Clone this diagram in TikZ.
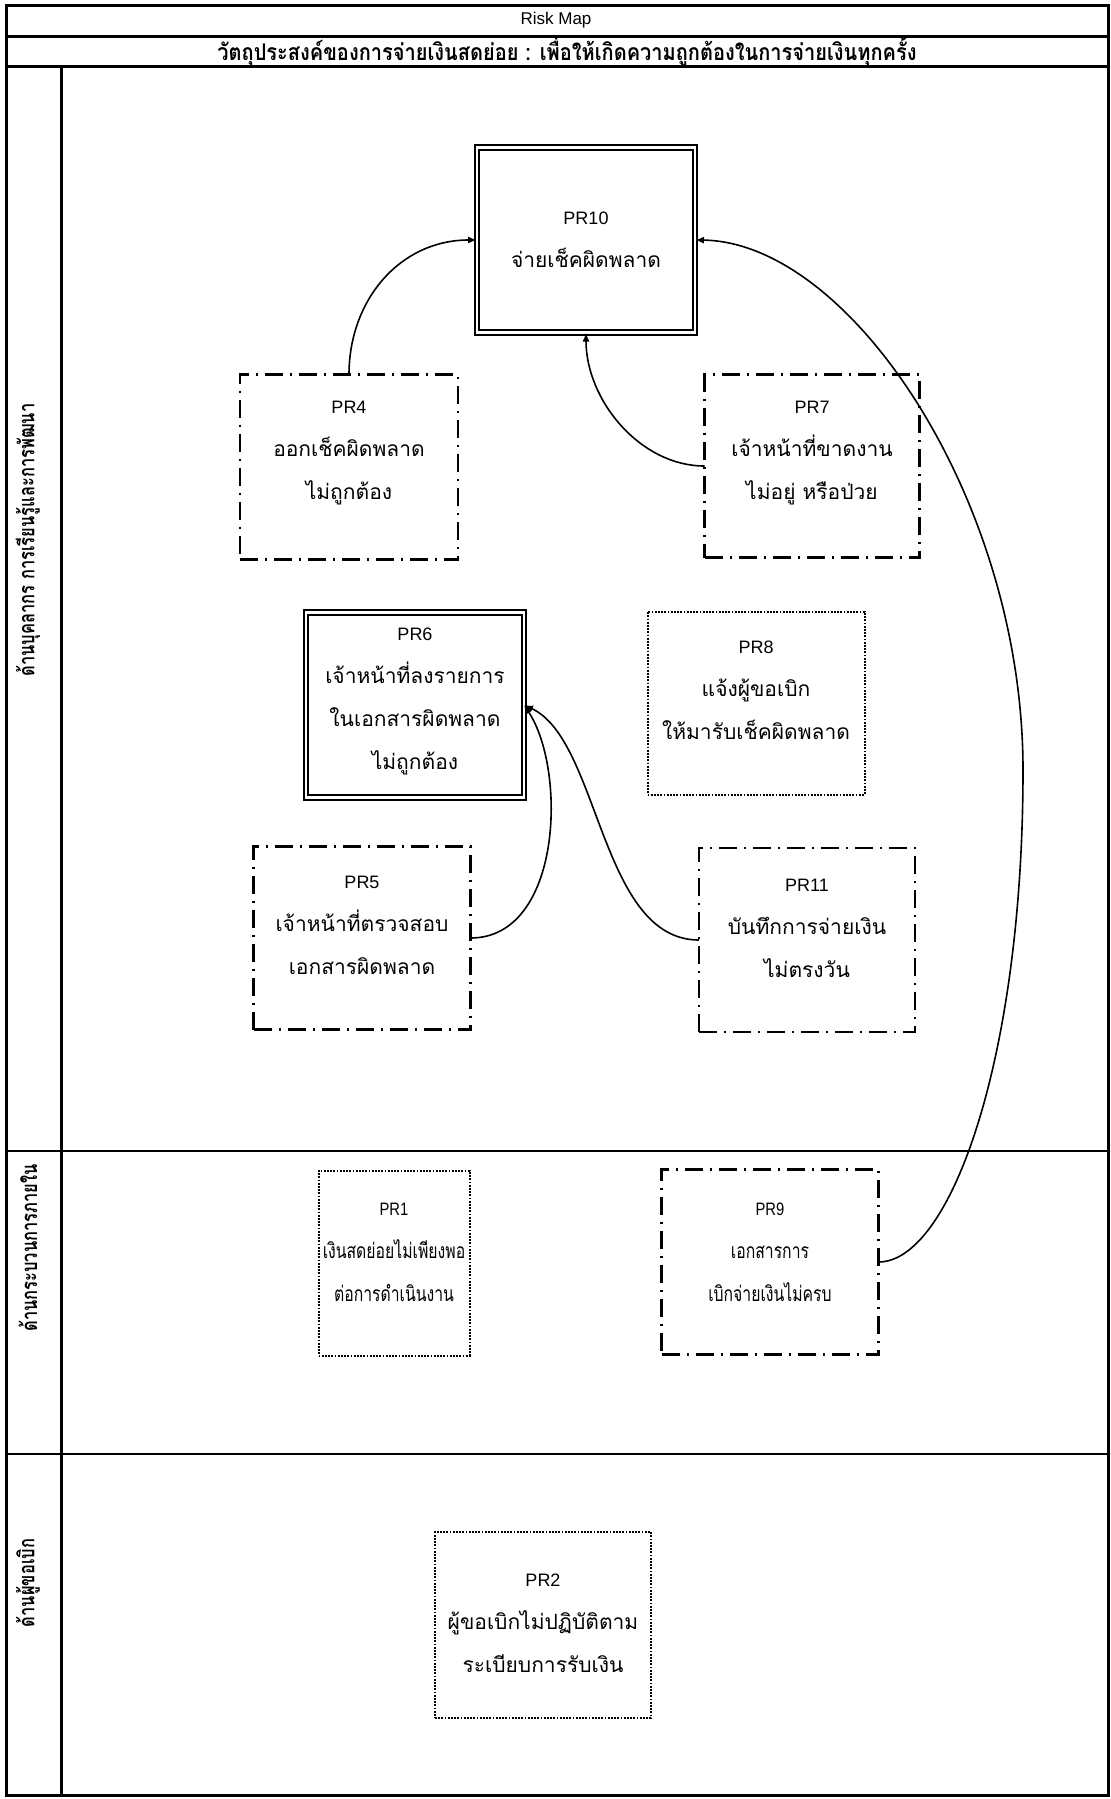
\documentclass[tikz,border=0pt]{standalone}
\usepackage{fontspec}
\setmainfont{Liberation Sans}
\newfontfamily\thaifont[Script=Thai]{Loma}
\newfontfamily\thaicond[Script=Thai,FakeStretch=0.75]{Loma}
\newfontfamily\thaisub[Script=Thai,FakeStretch=0.87]{Loma}
\newfontfamily\latcond[FakeStretch=0.82]{Liberation Sans}
\usetikzlibrary{arrows.meta}
\newcommand\TT[1]{{\thaifont\fontsize{10.5}{21.5}\selectfont #1}}
\newcommand\TC[1]{{\thaicond\fontsize{10.5}{21.5}\selectfont #1}}
\begin{document}
\begin{tikzpicture}[x=0.5pt,y=-0.5pt,
  frameline/.style={line width=1.5pt},
  laneline/.style={line width=1.3pt},
  riskbox/.style n args={2}{minimum width=#1, minimum height=#2, inner sep=0pt, outer sep=0pt},
  ddbox/.style={draw, line width=1.1pt, dash pattern=on 9pt off 3.5pt on 1pt off 3.5pt},
  dotbox/.style={draw, line width=1pt, dash pattern=on 0.9pt off 0.7pt},
  dblbox/.style={draw, line width=0.9pt, double, double distance=1.3pt},
  txt/.style={align=center, inner sep=0pt, font=\fontsize{9}{21.5}\selectfont},
  lanelbl/.style={rotate=90, inner sep=0pt, font=\thaicond\bfseries\fontsize{11}{12}\selectfont},
  conn/.style={line width=0.8pt, -{Latex[length=4.5pt,width=3.5pt]}}]
\useasboundingbox (0,0) rectangle (1111,1799);
% frame
\draw[frameline] (6,5) rectangle (1108,1795);
\draw[frameline] (6,36) -- (1108,36);
\draw[frameline] (6,66) -- (1108,66);
\draw[frameline] (61,66) -- (61,1795);
\draw[laneline] (6,1151) -- (1108,1151);
\draw[laneline] (6,1454) -- (1108,1454);
% header
\node[inner sep=0pt, font=\fontsize{8.5}{10}\selectfont] (title) at (556,20.5) {Risk Map};
\node[inner sep=0pt, font=\thaisub\bfseries\fontsize{11.5}{12}\selectfont] (sub) at (567,51) {วัตถุประสงค์ของการจ่ายเงินสดย่อย : เพื่อให้เกิดความถูกต้องในการจ่ายเงินทุกครั้ง};
% lane labels
\node[lanelbl] (l1) at (28,540) {ด้านบุคลากร การเรียนรู้และการพัฒนา};
\node[lanelbl] (l2) at (28,1248) {ด้านกระบวนการภายใน};
\node[lanelbl] (l3) at (28,1583) {ด้านผู้ขอเบิก};
% boxes
\node[riskbox={109pt}{92.5pt}, dblbox] (pr10) at (586,240) {};
\node[riskbox={109pt}{92.5pt}, ddbox] (pr4) at (349,467) {};
\node[riskbox={107.5pt}{91.5pt}, ddbox] (pr7) at (812,466) {};
\node[riskbox={109pt}{92.5pt}, dblbox] (pr6) at (415,705) {};
\node[riskbox={108.5pt}{91.5pt}, dotbox] (pr8) at (756,703) {};
\node[riskbox={108.5pt}{91.5pt}, ddbox] (pr5) at (362,938) {};
\node[riskbox={108pt}{92pt}, ddbox] (pr11) at (807,940) {};
\node[riskbox={75.5pt}{92.5pt}, dotbox] (pr1) at (394,1263) {};
\node[riskbox={108.5pt}{92.5pt}, ddbox] (pr9) at (770,1262) {};
\node[riskbox={108pt}{93pt}, dotbox] (pr2) at (543,1625) {};
% texts
\node[txt] (t10) at (586,240) {PR10\\\TT{จ่ายเช็คผิดพลาด}};
\node[txt] (t4) at (349,453) {PR4\\\TT{ออกเช็คผิดพลาด}\\\TT{ไม่ถูกต้อง}};
\node[txt] (t7) at (812,453) {PR7\\\TT{เจ้าหน้าที่ขาดงาน}\\\TT{ไม่อยู่ หรือป่วย}};
\node[txt] (t6) at (415,701) {PR6\\\TT{เจ้าหน้าที่ลงรายการ}\\\TT{ในเอกสารผิดพลาด}\\\TT{ไม่ถูกต้อง}};
\node[txt] (t8) at (756,690) {PR8\\\TT{แจ้งผู้ขอเบิก}\\\TT{ให้มารับเช็คผิดพลาด}};
\node[txt] (t5) at (362,925) {PR5\\\TT{เจ้าหน้าที่ตรวจสอบ}\\\TT{เอกสารผิดพลาด}};
\node[txt] (t11) at (807,928) {PR11\\\TT{บันทึกการจ่ายเงิน}\\\TT{ไม่ตรงวัน}};
\node[txt] (t1) at (394,1252) {{\latcond PR1}\\\TC{เงินสดย่อยไม่เพียงพอ}\\\TC{ต่อการดำเนินงาน}};
\node[txt] (t9) at (770,1252) {{\latcond PR9}\\\TC{เอกสารการ}\\\TC{เบิกจ่ายเงินไม่ครบ}};
\node[txt] (t2) at (543,1623) {PR2\\\TT{ผู้ขอเบิกไม่ปฏิบัติตาม}\\\TT{ระเบียบการรับเงิน}};
% connectors
\coordinate (far) at (1023,770);
\draw[conn] (pr4.north) .. controls (349,300) and (400,240) .. (pr10.west);
\draw[conn] (pr7.west) .. controls (640,466) and (586,400) .. (pr10.south);
\draw[conn] (pr9.east) .. controls (950,1262) and (1023,1060) .. (far) .. controls (1023,500) and (850,242) .. (pr10.east);
\draw[conn] (pr5.east) .. controls (562,938) and (567,770) .. (pr6.east);
\draw[conn] (pr11.west) .. controls (600,940) and (600,740) .. (pr6.east);
\end{tikzpicture}
\end{document}
